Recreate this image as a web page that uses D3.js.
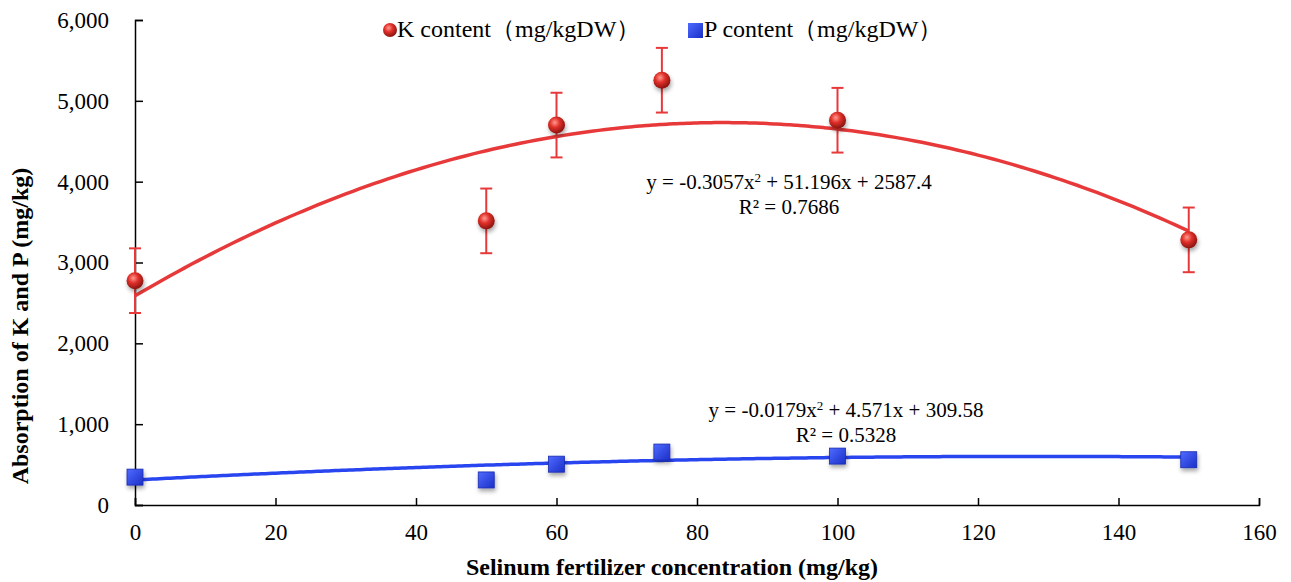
<!DOCTYPE html>
<html><head><meta charset="utf-8">
<script src="https://cdn.jsdelivr.net/npm/d3@7"></script>
<style>body{margin:0;background:#fff}svg{display:block}</style>
</head><body><svg id="c" width="1291" height="582"></svg>
<script>
const xVals = [0, 50, 60, 75, 100, 150];
const kVals = [2775, 3515, 4700, 5255, 4760, 3280];
const kErr = [400, 400, 400, 400, 400, 400];
const pVals = [345, 310, 505, 655, 605, 560];
const kCoef = [-0.3057, 51.196, 2587.4];
const pCoef = [-0.0179, 4.571, 309.58];
const xTicks = [0, 20, 40, 60, 80, 100, 120, 140, 160];
const yTicks = [0, 1000, 2000, 3000, 4000, 5000, 6000];
const kEqText = ["y = -0.3057x", " + 51.196x + 2587.4", "R² = 0.7686"];
const pEqText = ["y = -0.0179x", " + 4.571x + 309.58", "R² = 0.5328"];

const FONT = "'Liberation Serif', 'Times New Roman', Tinos, 'DejaVu Serif', serif";
const svg = d3.select("#c").style("font-family", FONT);
const x = d3.scaleLinear().domain([0,160]).range([135,1259]);
const y = d3.scaleLinear().domain([0,6000]).range([505,20]);
const red = "#e8393a", blue = "#2945f0";

const defs = svg.append("defs");
const rg = defs.append("radialGradient").attr("id","ball").attr("cx","40%").attr("cy","35%").attr("r","65%");
rg.append("stop").attr("offset","0%").attr("stop-color","#ff9a8e");
rg.append("stop").attr("offset","45%").attr("stop-color","#e0302a");
rg.append("stop").attr("offset","100%").attr("stop-color","#8a1410");
const lg = defs.append("linearGradient").attr("id","sq").attr("x1","0").attr("y1","0").attr("x2","1").attr("y2","1");
lg.append("stop").attr("offset","0%").attr("stop-color","#4f6bff");
lg.append("stop").attr("offset","100%").attr("stop-color","#1b2fc8");
const f = defs.append("filter").attr("id","sh").attr("x","-50%").attr("y","-50%").attr("width","200%").attr("height","200%");
f.append("feDropShadow").attr("dx",1).attr("dy",3).attr("stdDeviation",2).attr("flood-color","#000").attr("flood-opacity",0.35);

// axes
const xAxis = d3.axisBottom(x).tickValues(xTicks).tickSizeInner(-7).tickSizeOuter(-7).tickPadding(19).tickFormat(d3.format("d"));
const gx = svg.append("g").attr("transform","translate(0,505)").call(xAxis);
const yAxis = d3.axisLeft(y).tickValues(yTicks).tickSizeInner(-8).tickSizeOuter(-8).tickPadding(26).tickFormat(d3.format(","));
const gy = svg.append("g").attr("transform","translate(135,0)").call(yAxis);
[gx,gy].forEach(g=>{
  g.attr("font-family", null).attr("font-size", null);
  g.selectAll("path,line").attr("stroke","#000").attr("stroke-width",1.5);
  g.selectAll("text").attr("font-size",23).attr("fill","#000").style("font-family",FONT);
});

// titles
svg.append("text").attr("x",672).attr("y",575).attr("text-anchor","middle").attr("font-size",24).attr("font-weight","bold").style("font-family",FONT).text("Selinum fertilizer concentration (mg/kg)");
svg.append("text").attr("transform","translate(28,326) rotate(-90)").attr("text-anchor","middle").attr("font-size",24).attr("font-weight","bold").style("font-family",FONT).text("Absorption of K and P (mg/kg)");

// trendlines
const poly = c => v => c[0]*v*v + c[1]*v + c[2];
const xs = d3.range(0,150.01,1);
const line = fn => d3.line().x(d=>x(d)).y(d=>y(fn(d))).curve(d3.curveMonotoneX);
svg.append("path").datum(xs).attr("d",line(poly(kCoef))).attr("fill","none").attr("stroke",red).attr("stroke-width",3.5);
svg.append("path").datum(xs).attr("d",line(poly(pCoef))).attr("fill","none").attr("stroke",blue).attr("stroke-width",3.5);

// error bars
const eb = svg.append("g").attr("stroke",red).attr("stroke-width",2);
xVals.forEach((xv,i)=>{
  const cx = x(xv), t = y(kVals[i]+kErr[i]), b = y(kVals[i]-kErr[i]);
  eb.append("line").attr("x1",cx).attr("x2",cx).attr("y1",t).attr("y2",b);
  eb.append("line").attr("x1",cx-6).attr("x2",cx+6).attr("y1",t).attr("y2",t);
  eb.append("line").attr("x1",cx-6).attr("x2",cx+6).attr("y1",b).attr("y2",b);
});

// markers
svg.append("g").selectAll("circle").data(xVals).join("circle")
  .attr("cx",d=>x(d)).attr("cy",(d,i)=>y(kVals[i])).attr("r",8.5)
  .attr("fill","url(#ball)").attr("filter","url(#sh)");
svg.append("g").selectAll("rect").data(xVals).join("rect")
  .attr("x",d=>x(d)-8).attr("y",(d,i)=>y(pVals[i])-8).attr("width",16).attr("height",16)
  .attr("fill","url(#sq)").attr("stroke","#1a2bb0").attr("stroke-width",0.8).attr("filter","url(#sh)");

// equations
function eq(txt, cx, cy){
  const t = svg.append("text").attr("x",cx).attr("y",cy).attr("text-anchor","middle").attr("font-size",21).style("font-family",FONT);
  t.append("tspan").text(txt[0]);
  t.append("tspan").attr("dy",-7).attr("font-size",13).text("2");
  t.append("tspan").attr("dy",7).text(txt[1]);
  svg.append("text").attr("x",cx).attr("y",cy+25).attr("text-anchor","middle").attr("font-size",21).style("font-family",FONT).text(txt[2]);
}
eq(kEqText, 789, 189);
eq(pEqText, 846, 417);

// legend
const lgG = svg.append("g");
lgG.append("circle").attr("cx",390).attr("cy",30).attr("r",7).attr("fill","url(#ball)");
lgG.append("text").attr("x",397).attr("y",37).attr("font-size",24).style("font-family",FONT).text("K content（mg/kgDW）");
lgG.append("rect").attr("x",688).attr("y",23).attr("width",15).attr("height",15).attr("fill","url(#sq)");
lgG.append("text").attr("x",704).attr("y",37).attr("font-size",24).style("font-family",FONT).text("P content（mg/kgDW）");
</script></body></html>
